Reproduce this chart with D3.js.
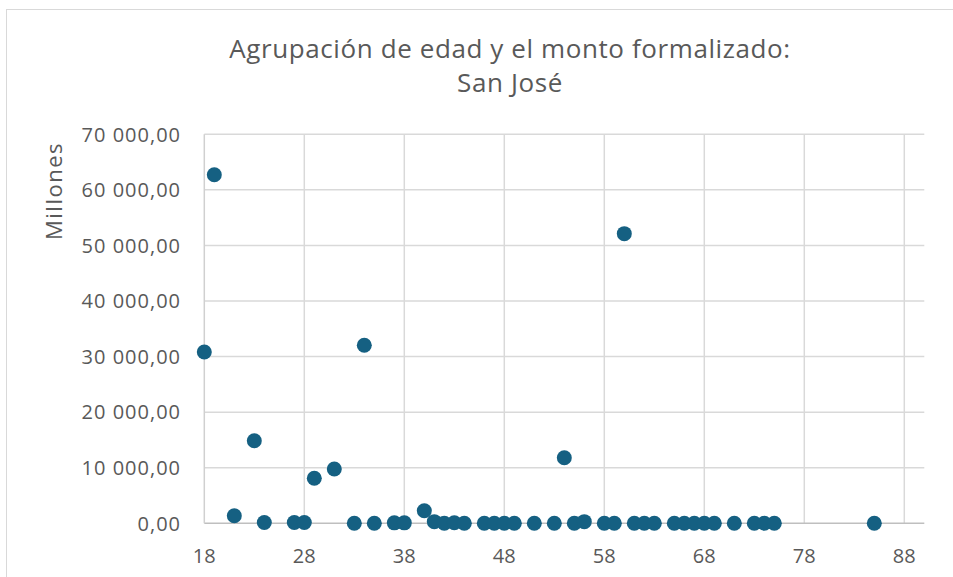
<!DOCTYPE html>
<html>
<head>
<meta charset="utf-8">
<script src="https://cdn.jsdelivr.net/npm/d3@7"></script>
<style>
  body { margin: 0; background: #fff; }
  text { font-family: "Open Sans", sans-serif; fill: #595959; }
</style>
</head>
<body>
<svg id="chart" width="953" height="577"></svg>
<script>
const titleLines = ["Agrupación de edad y el monto formalizado:", "San José"]
const yAxisTitle = "Millones"

const ages = [18, 19, 21, 23, 24, 27, 28, 29, 31, 33, 34, 35, 37, 38, 40, 41, 42, 43, 44, 46, 47, 48, 49, 51, 53, 54, 55, 56, 58, 59, 60, 61, 62, 63, 65, 66, 67, 68, 69, 71, 73, 74, 75, 85]
const amounts = [30830, 62730, 1370, 14860, 150, 150, 150, 8100, 9770, 0, 32030, 0, 80, 80, 2270, 300, 0, 100, 0, 0, 0, 0, 0, 0, 0, 11800, 0, 300, 0, 0, 52120, 0, 0, 0, 0, 0, 0, 0, 0, 0, 0, 0, 0, 0]

const xTicks = [18, 28, 38, 48, 58, 68, 78, 88]
const yTicks = [0, 10000, 20000, 30000, 40000, 50000, 60000, 70000]

const width = 953,
height = 577

const plot = { left: 204.3, right: 924.3, top: 134.3, bottom: 523.3 }

const svg = d3.select("#chart")

// chart frame
svg.append("rect")
.attr("x", 6.5)
.attr("y", 9.5)
.attr("width", width)
.attr("height", height)
.attr("fill", "none")
.attr("stroke", "#d9d9d9")

const x = d3.scaleLinear()
.domain([18, 90])
.range([plot.left, plot.right])

const y = d3.scaleLinear()
.domain([0, 70000])
.range([plot.bottom, plot.top])

const locale = d3.formatLocale({ decimal: ",", thousands: " ", grouping: [3], currency: ["", ""] })
const fmt = locale.format(",.2f")

svg.append("g")
.selectAll("line")
.data(yTicks.filter(d => d > 0))
.join("line")
.attr("x1", plot.left)
.attr("x2", plot.right)
.attr("y1", d => y(d))
.attr("y2", d => y(d))
.attr("stroke", "#d9d9d9")
.attr("stroke-width", 1.5)

svg.append("g")
.selectAll("line")
.data(xTicks.filter(d => d > 18))
.join("line")
.attr("x1", d => x(d))
.attr("x2", d => x(d))
.attr("y1", plot.top)
.attr("y2", plot.bottom)
.attr("stroke", "#d9d9d9")
.attr("stroke-width", 1.5)

// axis lines
svg.append("line")
.attr("x1", plot.left)
.attr("x2", plot.right)
.attr("y1", y(0))
.attr("y2", y(0))
.attr("stroke", "#bfbfbf")
.attr("stroke-width", 1.5)

svg.append("line")
.attr("x1", x(18))
.attr("x2", x(18))
.attr("y1", plot.top)
.attr("y2", plot.bottom)
.attr("stroke", "#d0d0d0")
.attr("stroke-width", 1.5)

svg.append("g")
.selectAll("text")
.data(yTicks)
.join("text")
.attr("x", 181)
.attr("y", d => y(d))
.attr("dy", "0.36em")
.attr("text-anchor", "end")
.style("font-size", "20px")
.style("letter-spacing", "1px")
.text(d => fmt(d))

svg.append("g")
.selectAll("text")
.data(xTicks)
.join("text")
.attr("x", d => x(d))
.attr("y", 562.5)
.attr("text-anchor", "middle")
.style("font-size", "20px")
.text(d => d)

svg.append("text")
.attr("transform", "translate(62,191) rotate(-90)")
.attr("text-anchor", "middle")
.style("font-size", "22px")
.style("letter-spacing", "1.5px")
.text(yAxisTitle)

svg.append("g")
.selectAll("text")
.data(titleLines)
.join("text")
.attr("x", 510)
.attr("y", (d, i) => 58 + i * 34)
.attr("text-anchor", "middle")
.style("font-size", "26px")
.style("letter-spacing", "0.6px")
.text(d => d)

svg.append("g")
.selectAll("circle")
.data(ages.map((a, i) => [a, amounts[i]]))
.join("circle")
.attr("cx", d => x(d[0]))
.attr("cy", d => y(d[1]))
.attr("r", 7.5)
.attr("fill", "#156082")
</script>
</body>
</html>
